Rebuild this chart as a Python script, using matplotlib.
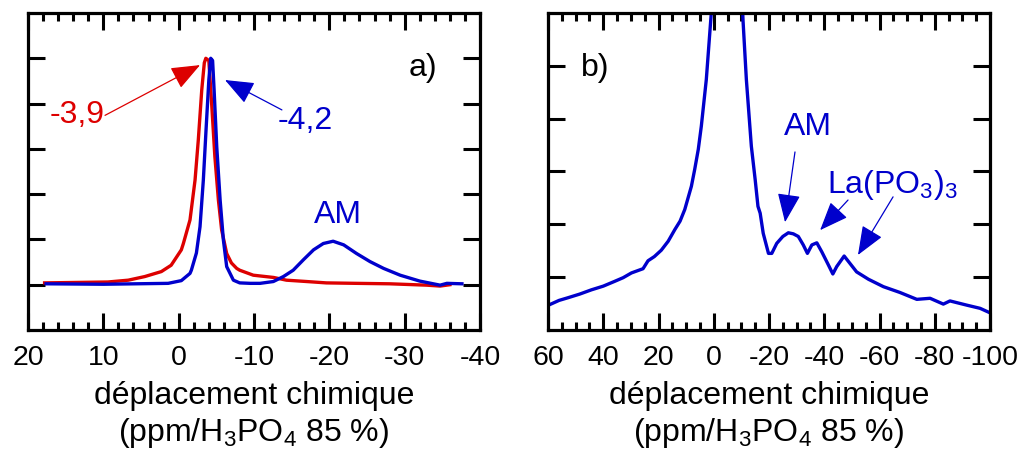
import matplotlib.pyplot as plt
from matplotlib.ticker import MultipleLocator

plt.rcParams['font.family'] = ['Liberation Sans', 'DejaVu Sans']
plt.rcParams['mathtext.fontset'] = 'custom'
plt.rcParams['mathtext.rm'] = 'Liberation Sans'
plt.rcParams['axes.unicode_minus'] = False

ROUGE = '#dd0000'
BLEU = '#0000cc'

# spectre a) - courbe rouge (pic -3,9)
delta_rouge = [17.8, 9.4, 6.7, 4.5, 2.3, 1.0, -0.35, -0.62, -1.5, -2.17, -2.6, -3.06,
               -3.4, -3.6, -4.0, -4.4, -4.8, -5.27, -5.7, -6.37, -7.0, -7.7, -8.1,
               -9.9, -12.6, -14.3, -17.0, -19.6, -23.6, -28.0, -32.9, -34.7, -36.0]
int_rouge = [0.04, 0.06, 0.10, 0.18, 0.29, 0.43, 0.77, 0.91, 1.43, 2.31, 3.19, 4.30,
             4.90, 5.00, 4.95, 3.93, 2.83, 1.87, 1.21, 0.69, 0.48, 0.36, 0.32,
             0.21, 0.16, 0.10, 0.07, 0.04, 0.03, 0.02, -0.01, -0.03, 0.00]

# spectre a) - courbe bleue (pic -4,2 + AM)
delta_bleu = [17.6, 10.0, 1.4, -0.35, -1.5, -1.68, -2.35, -2.83, -3.27, -3.63, -4.0,
              -4.25, -4.5, -4.7, -5.05, -5.5, -5.93, -6.37, -7.26, -8.1, -9.5, -10.8,
              -12.56, -13.9, -15.2, -16.55, -17.9, -19.2, -20.5, -21.9, -23.6, -25.4,
              -27.2, -29.4, -32.0, -34.7, -35.6, -37.6]
int_bleu = [0.02, 0.01, 0.03, 0.09, 0.25, 0.32, 0.70, 1.28, 2.31, 3.42, 4.52,
            5.00, 4.95, 4.30, 3.05, 1.87, 0.99, 0.40, 0.10, 0.04, 0.03, 0.03,
            0.07, 0.18, 0.32, 0.55, 0.77, 0.91, 0.96, 0.88, 0.69, 0.51,
            0.36, 0.21, 0.08, -0.01, 0.03, 0.02]

# spectre b) - agrandissement
delta_b = [59.4, 56.0, 52.8, 48.5, 44.3, 40.0, 35.9, 32.8, 29.8, 25.6, 23.8, 21.5,
           19.0, 16.5, 14.1, 12.2, 10.5, 8.1, 6.9, 5.6, 4.5, 2.7,
           0.9, -4.2, -10.6, -11.8, -13.6, -15.0, -16.0, -16.8, -17.9, -19.8, -21.0,
           -22.8, -25.0, -27.0, -28.8, -30.6, -32.4, -33.9, -35.5, -37.3, -39.1,
           -41.5, -43.1, -44.5, -47.2, -49.3, -51.7, -56.0, -61.4, -67.4, -73.5,
           -78.3, -83.1, -85.5, -91.6, -96.4, -100.2]
int_b = [0.48, 0.56, 0.61, 0.68, 0.76, 0.83, 0.92, 0.99, 1.08, 1.16, 1.31, 1.39,
         1.51, 1.68, 1.90, 2.06, 2.28, 2.72, 3.04, 3.42, 3.86, 4.74,
         6.0, 14.0, 5.85, 4.74, 3.48, 2.84, 2.34, 2.21, 1.83, 1.45, 1.45,
         1.64, 1.77, 1.84, 1.82, 1.77, 1.61, 1.45, 1.61, 1.65, 1.48,
         1.23, 1.06, 1.20, 1.40, 1.26, 1.10, 0.96, 0.82, 0.71, 0.58,
         0.60, 0.49, 0.55, 0.47, 0.41, 0.32]

fig = plt.figure(figsize=(10.27, 4.58), dpi=100)
ax1 = fig.add_axes([0.0273, 0.2795, 0.4401, 0.6921])
ax2 = fig.add_axes([0.5336, 0.2795, 0.4304, 0.6921])

for ax in (ax1, ax2):
    for s in ax.spines.values():
        s.set_linewidth(2.3)
    ax.tick_params(which='both', direction='in', top=True, right=True,
                   labelsize=20.5, pad=11, width=2.2)
    ax.tick_params(which='major', length=12)
    ax.tick_params(which='minor', length=6)
    ax.tick_params(axis='y', which='minor', left=False, right=False)
    ax.set_xlabel('déplacement chimique\n(ppm/H$_3$PO$_4$ 85 %)', fontsize=23,
                  labelpad=7, linespacing=1.2)

# a)
ax1.plot(delta_rouge, int_rouge, color=ROUGE, lw=2.4)
ax1.plot(delta_bleu, int_bleu, color=BLEU, lw=2.4)
ax1.set_xlim(20, -40)
ax1.set_ylim(-1, 6)
ax1.xaxis.set_major_locator(MultipleLocator(10))
ax1.xaxis.set_minor_locator(MultipleLocator(2))
ax1.set_yticks([0, 1, 2, 3, 4, 5])
ax1.set_yticklabels([])

fleche = dict(arrowstyle='-|>,head_length=0.9,head_width=0.36', lw=0.9,
              mutation_scale=20, shrinkA=0, shrinkB=0)
ax1.text(13.5, 3.74, '-3,9', color=ROUGE, fontsize=23, ha='center', va='center')
ax1.annotate('', xy=(-2.83, 4.85), xytext=(9.78, 3.74),
             arrowprops=dict(fleche, color=ROUGE))
ax1.text(-16.8, 3.62, '-4,2', color=BLEU, fontsize=23, ha='center', va='center')
ax1.annotate('', xy=(-6.15, 4.52), xytext=(-13.7, 3.86),
             arrowprops=dict(fleche, color=BLEU))
ax1.text(-21.2, 1.54, 'AM', color=BLEU, fontsize=23, ha='center', va='center')
ax1.text(-32.4, 4.79, 'a)', color='black', fontsize=23, ha='center', va='center')

# b)
ax2.plot(delta_b, int_b, color=BLEU, lw=2.4)
ax2.set_xlim(60, -100)
ax2.set_ylim(0, 6)
ax2.xaxis.set_major_locator(MultipleLocator(20))
ax2.xaxis.set_minor_locator(MultipleLocator(5))
ax2.set_yticks([1, 2, 3, 4, 5])
ax2.set_yticklabels([])

ax2.text(43.0, 4.96, 'b)', color='black', fontsize=23, ha='center', va='center')
ax2.text(-34.1, 3.84, 'AM', color=BLEU, fontsize=23, ha='center', va='center')
ax2.annotate('', xy=(-25.8, 2.04), xytext=(-29.4, 3.37),
             arrowprops=dict(fleche, color=BLEU))
ax2.text(-64.5, 2.59, 'La(PO$_3$)$_3$', color=BLEU, fontsize=23, ha='center',
         va='baseline')
ax2.annotate('', xy=(-38.5, 1.89), xytext=(-48.6, 2.46),
             arrowprops=dict(fleche, color=BLEU))
ax2.annotate('', xy=(-52.2, 1.42), xytext=(-64.9, 2.52),
             arrowprops=dict(fleche, color=BLEU))

fig.savefig('out.png', dpi=100)
